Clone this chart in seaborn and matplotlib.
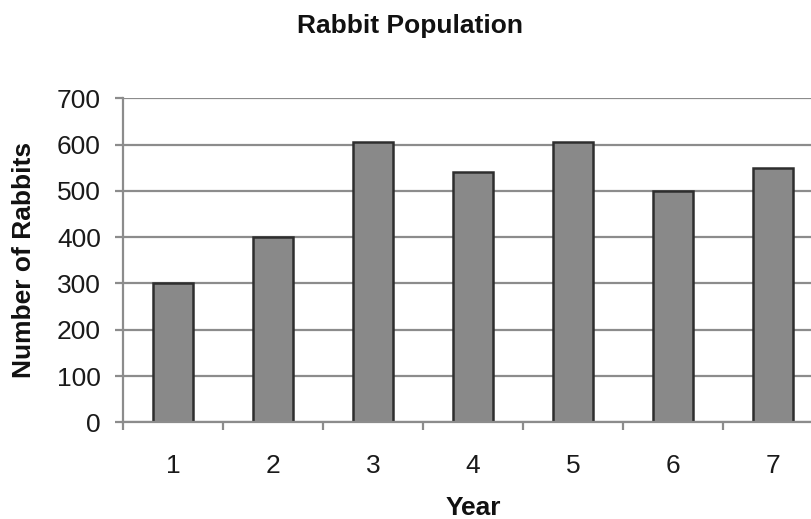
import numpy as np
import pandas as pd
import matplotlib
matplotlib.use("Agg")
import matplotlib.pyplot as plt
import seaborn as sns

# Rabbit counts per year
years = ["1", "2", "3", "4", "5", "6", "7"]
rabbits = [300, 400, 605, 540, 605, 500, 550]
y_ticks = [0, 100, 200, 300, 400, 500, 600, 700]

df = pd.DataFrame({"Year": years, "Rabbits": rabbits})

sns.set_theme(style="white")
plt.rcParams["font.family"] = ["Liberation Sans", "DejaVu Sans"]

fig = plt.figure(figsize=(8.12, 5.19), dpi=100)
ax = fig.add_axes([123 / 812, 1 - 422.3 / 519, 700 / 812, 324 / 519])

grid_col = "#8c8c8c"
ax.set_axisbelow(True)
ax.yaxis.grid(True, color=grid_col, linewidth=1.6)

sns.barplot(data=df, x="Year", y="Rabbits", ax=ax, color="#898989",
            saturation=1, width=0.4, edgecolor="#2e2e2e", linewidth=1.8)

ax.set_ylim(0, 700)
ax.set_xlim(-0.5, 6.5)
ax.set_yticks(y_ticks)

# category boundaries carry the x tick marks; labels sit at centres
ax.set_xticks(np.arange(len(years)))
ax.set_xticklabels(years)
ax.set_xticks(np.arange(-0.5, len(years), 1), minor=True)
ax.tick_params(axis="x", which="major", length=0, pad=22.5, labelsize=19,
               labelcolor="#1a1a1a")
ax.tick_params(axis="x", which="minor", length=6, width=1.6,
               color=grid_col, direction="out")
ax.tick_params(axis="y", length=6, width=1.6, color=grid_col,
               direction="out", pad=10, labelsize=19, labelcolor="#1a1a1a")
ax.tick_params(left=True, bottom=True, which="both")

for side in ("top", "right"):
    ax.spines[side].set_visible(False)
for side in ("left", "bottom"):
    ax.spines[side].set_color(grid_col)
    ax.spines[side].set_linewidth(1.6)

ax.set_ylabel("Number of Rabbits", fontsize=19, fontweight="bold",
              color="#111111", va="center")
ax.yaxis.set_label_coords((24 - 123) / 700, 0.5)
ax.set_xlabel("Year", fontsize=19, fontweight="bold", color="#111111",
              va="center")
ax.xaxis.set_label_coords(0.5, (422.3 - 508) / 324)

fig.text(410 / 812, 1 - 33 / 519, "Rabbit Population", ha="center",
         va="baseline", fontsize=19, fontweight="bold", color="#111111")

fig.savefig("out.png", dpi=100)
